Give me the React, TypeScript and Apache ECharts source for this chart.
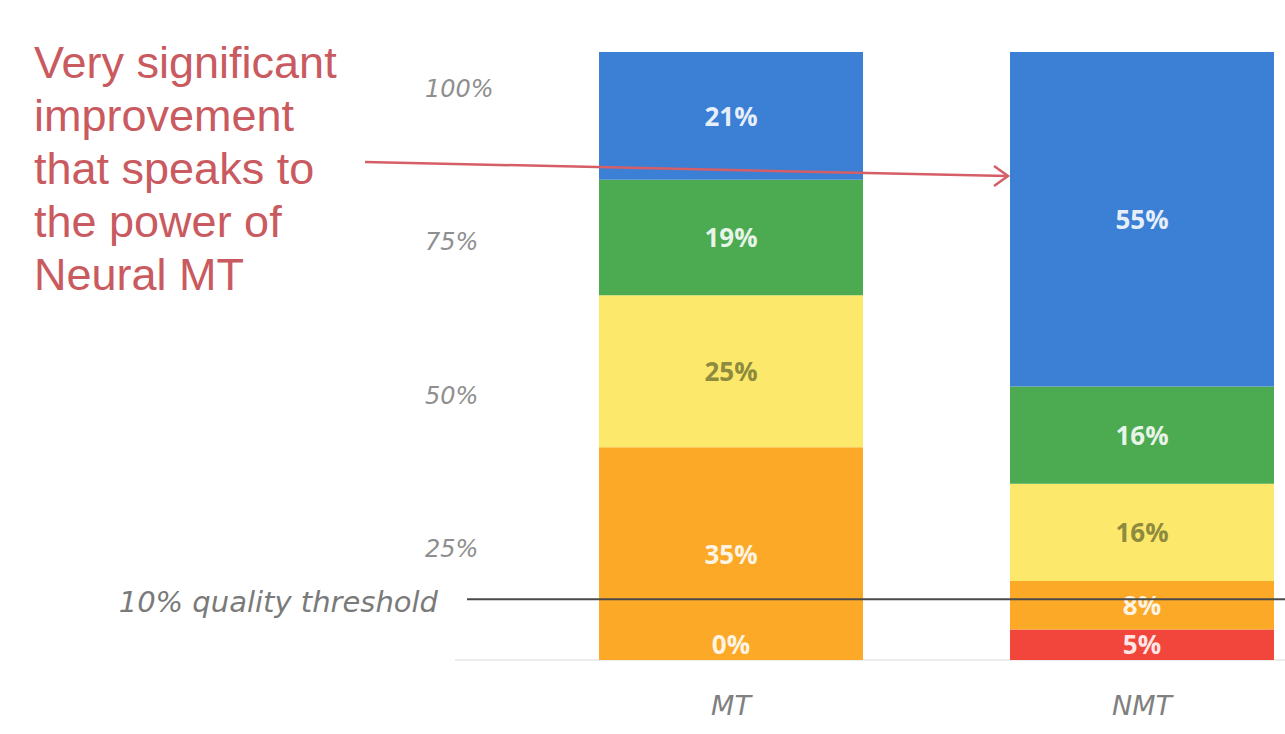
import React, { useEffect, useRef } from 'react';
import * as echarts from 'echarts';

const categories = ['MT', 'NMT'];
const redValues = [0, 5];
const orangeValues = [35, 8];
const yellowValues = [25, 16];
const greenValues = [19, 16];
const blueValues = [21, 55];
const tickValues = [25, 50, 75, 100];
const thresholdValue = 10;
const thresholdLabel = '10% quality threshold';
const annotationLines = ['Very significant', 'improvement', 'that speaks to', 'the power of', 'Neural MT'];

const GRAY_FONT = '"DejaVu Sans", "Open Sans", sans-serif';
const LIGHT = 'rgba(255,255,255,0.88)';

export default function App() {
  const ref = useRef<HTMLDivElement>(null);
  useEffect(() => {
    document.body.style.margin = '0';
    const chart = echarts.init(ref.current!, null, { renderer: 'svg' });
    const stacks = [
      { name: 'Red', data: redValues, color: '#f2453b', labelColor: LIGHT, position: 'insideBottom' },
      { name: 'Orange', data: orangeValues, color: '#fba927', labelColor: LIGHT, position: 'inside' },
      { name: 'Yellow', data: yellowValues, color: '#fce96c', labelColor: '#8e8a3e', position: 'inside' },
      { name: 'Green', data: greenValues, color: '#4caa50', labelColor: LIGHT, position: 'inside' },
      { name: 'Blue', data: blueValues, color: '#3b80d5', labelColor: LIGHT, position: 'inside' },
    ];
    chart.setOption({
      animation: false,
      backgroundColor: '#ffffff',
      grid: { left: 731, right: 143, top: 52, bottom: 74, containLabel: false },
      xAxis: {
        type: 'category',
        data: categories,
        boundaryGap: false,
        axisLine: { show: false },
        axisTick: { show: false },
        splitLine: { show: false },
        axisLabel: {
          margin: 32,
          fontSize: 27,
          fontStyle: 'italic',
          color: '#808080',
          fontFamily: GRAY_FONT,
        },
      },
      yAxis: [
        { type: 'value', min: 0, max: 100, show: false },
        {
          type: 'value',
          min: 7,
          max: 106,
          position: 'left',
          axisLine: { show: false },
          axisTick: { show: false },
          splitLine: { show: false },
          axisLabel: {
            customValues: tickValues,
            formatter: '{value}%',
            align: 'left',
            margin: 306,
            fontSize: 24,
            fontStyle: 'italic',
            color: '#8f8f8f',
            fontFamily: GRAY_FONT,
          },
        },
      ],
      series: stacks.map((s) => ({
        type: 'bar',
        name: s.name,
        stack: 'quality',
        yAxisIndex: 0,
        barWidth: 264,
        clip: false,
        data: s.data,
        itemStyle: { color: s.color },
        label: {
          show: true,
          position: s.position,
          distance: 3,
          formatter: '{c}%',
          color: s.labelColor,
          fontSize: 26,
          fontWeight: 'bold',
          fontFamily: '"Open Sans", sans-serif',
        },
      })),
    });

    const y0 = chart.convertToPixel({ yAxisIndex: 0 }, 0) as number;
    const yT = chart.convertToPixel({ yAxisIndex: 0 }, thresholdValue) as number;
    chart.setOption({
      graphic: [
        {
          type: 'line',
          z: 1,
          shape: { x1: 455, y1: y0, x2: 1285, y2: y0 },
          style: { stroke: '#e6e6e6', lineWidth: 1.5 },
        },
        {
          type: 'line',
          z: 100,
          shape: { x1: 467, y1: yT, x2: 1285, y2: yT },
          style: { stroke: '#4a4a4a', lineWidth: 2 },
        },
        {
          type: 'text',
          z: 100,
          x: 438,
          y: yT + 3,
          style: {
            text: thresholdLabel,
            align: 'right',
            verticalAlign: 'middle',
            fontSize: 29,
            fontStyle: 'italic',
            fill: '#7a7a7a',
            fontFamily: GRAY_FONT,
          },
        },
        ...annotationLines.map((line, i) => ({
          type: 'text',
          z: 100,
          x: 34,
          y: 62 + i * 53,
          style: {
            text: line,
            verticalAlign: 'middle',
            fontSize: 45,
            fill: '#c95a60',
            fontFamily: '"Liberation Sans", Arial, sans-serif',
          },
        })),
        {
          type: 'line',
          z: 100,
          shape: { x1: 365, y1: 162, x2: 1007, y2: 176 },
          style: { stroke: '#d65e66', lineWidth: 2.5 },
        },
        {
          type: 'polyline',
          z: 100,
          shape: { points: [[994, 166], [1008, 176], [994, 186]] },
          style: { stroke: '#d65e66', lineWidth: 2.5, fill: 'none' },
        },
      ],
    });
    return () => chart.dispose();
  }, []);
  return <div ref={ref} style={{ width: 1285, height: 734 }} />;
}
